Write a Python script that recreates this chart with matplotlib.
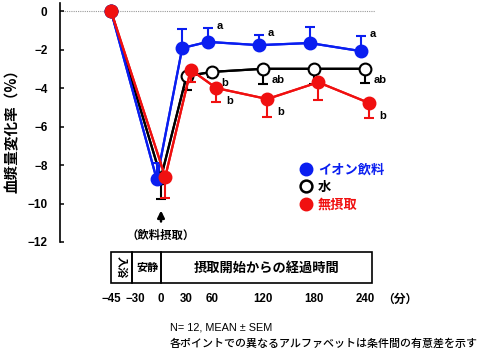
import numpy as np
import matplotlib
matplotlib.use("Agg")
import matplotlib.pyplot as plt
from matplotlib.lines import Line2D
from matplotlib.patches import Rectangle

# ---------------- data ----------------
times = np.array([-45, 0, 30, 60, 120, 180, 240])
tick_values = [-45, -30, 0, 30, 60, 120, 180, 240]
tick_labels = ["\u221245", "\u221230", "0", "30", "60", "120", "180", "240"]
yticks = [0, -2, -4, -6, -8, -10, -12]

ion_mean = np.array([0, -8.75, -1.92, -1.60, -1.77, -1.66, -2.08])
ion_sem = np.array([0, 0.85, 0.98, 0.73, 0.52, 0.83, 0.78])
water_mean = np.array([0, -8.65, -3.38, -3.16, -3.00, -3.00, -3.00])
water_sem = np.array([0, 1.10, 0.72, 0.25, 0.78, 0.80, 0.72])
none_mean = np.array([0, -8.62, -3.05, -4.00, -4.57, -3.70, -4.78])
none_sem = np.array([0, 1.08, 0.62, 0.72, 0.93, 0.93, 0.78])

ion_letters = ["", "", "", "a", "a", "", "a"]
water_letters = ["", "", "", "b", "ab", "", "ab"]
none_letters = ["", "", "", "b", "b", "", "b"]

series_names = ["イオン飲料", "水", "無摂取"]
period_labels = ["入浴", "安静", "摂取開始からの経過時間"]

BLUE = "#0a1ef0"
RED = "#f01010"
BLACK = "#000000"

JP = ["Noto Sans CJK JP", "DejaVu Sans"]
NUM = ["Liberation Sans", "DejaVu Sans"]

# ---------------- scale (pre-zero section compressed differently) ----------------
K = 28.8 / 15.0


def fwd(t):
    t = np.asarray(t, dtype=float)
    return np.where(t < -30, -30 + (t + 30) * K, t)


def inv(x):
    x = np.asarray(x, dtype=float)
    return np.where(x < -30, -30 + (x + 30) / K, x)


fig = plt.figure(figsize=(4.84, 3.56), dpi=100)
W, H = 484, 356
ax_l, ax_r, ax_t, ax_b = 60, 400, 3, 242
ax = fig.add_axes([ax_l / W, 1 - ax_b / H, (ax_r - ax_l) / W, (ax_b - ax_t) / H])
ax.set_xscale("function", functions=(fwd, inv))
pxmin = 0.85  # px per minute
ax.set_xlim(float(inv((ax_l - 161) / pxmin)), float(inv((ax_r - 161) / pxmin)))
ax.set_ylim(-12, 0.42)

for s in ["top", "right", "bottom"]:
    ax.spines[s].set_visible(False)
ax.spines["left"].set_linewidth(1.2)

ax.axhline(0, xmin=0.006, xmax=0.926, color="#999999", lw=0.8, ls=(0, (1, 1)), zorder=0)


def draw(mean, sem, color, face, offset, up, z):
    x = times + np.where(times >= 0, offset, 0)
    err = np.vstack([np.zeros_like(sem), sem]) if up else np.vstack([sem, np.zeros_like(sem)])
    ax.errorbar(x, mean, yerr=err, color=color, lw=1.6, capsize=3.5, capthick=1.5,
                elinewidth=1.5, zorder=z, marker=None)
    ax.plot(x, mean, color=color, lw=1.6, marker="o", ms=8.5, mfc=face, mec=color,
            mew=1.5, zorder=z + 0.5)
    return x


xb = draw(water_mean, water_sem, BLACK, "white", 0, False, 3)
xi = draw(ion_mean, ion_sem, BLUE, BLUE, -5, True, 4)
xr = draw(none_mean, none_sem, RED, RED, 5, False, 5)

lfont = dict(family=NUM, fontsize=8, fontweight="bold")
for x, m, s, l in zip(xi, ion_mean, ion_sem, ion_letters):
    if l:
        ax.annotate(l, (x, m + s), xytext=(6.5, 1.5), textcoords="offset points",
                    ha="left", va="center", **lfont)
for x, m, l in zip(xb, water_mean, water_letters):
    if l:
        ax.annotate(l, (x, m), xytext=(6.5, -8), textcoords="offset points",
                    ha="left", va="center", **lfont)
for x, m, l in zip(xr, none_mean, none_letters):
    if l:
        ax.annotate(l, (x, m), xytext=(7.5, -9.5), textcoords="offset points",
                    ha="left", va="center", **lfont)

# y axis
ax.set_yticks(yticks)
ax.set_yticklabels(["0" if v == 0 else "\u2212%d" % -v for v in yticks])
ax.tick_params(axis="y", direction="in", length=3, width=1.1, pad=9)
for t in ax.get_yticklabels():
    t.set_fontfamily(NUM)
    t.set_fontweight("bold")
    t.set_fontsize(8.5)

# x axis
ax.set_xticks(tick_values)
ax.set_xticklabels(tick_labels)
ax.tick_params(axis="x", length=0, pad=37)
for t in ax.get_xticklabels():
    t.set_fontfamily(NUM)
    t.set_fontweight("bold")
    t.set_fontsize(8.3)
ax.xaxis.set_minor_locator(matplotlib.ticker.NullLocator())

ax.set_ylabel("血漿量変化率（%）", fontfamily=JP, fontweight="bold", fontsize=10.5)
ax.yaxis.set_label_coords((20 - ax_l) / (ax_r - ax_l), (ax_b - 127) / (ax_b - ax_t))

# arrow and label
ax.annotate("", xy=(0, -10.22), xytext=(0, -11.08),
            arrowprops=dict(arrowstyle="-|>", color="black", lw=1.8, mutation_scale=10),
            annotation_clip=False)
ax.text(0, -11.64, "（飲料摂取）", ha="center", va="center", fontfamily=JP,
        fontsize=8.2, fontweight="bold", clip_on=False)

# period box
y_top, y_bot = -12.52, -14.13
edges = [-45, -32, 0, 248]
for a, b in zip(edges[:-1], edges[1:]):
    ax.add_patch(Rectangle((a, y_bot), b - a, y_top - y_bot, fill=False, lw=1.2,
                           ec="black", clip_on=False))
cx = [-38.5, -16, 124]
ax.text(cx[0], (y_top + y_bot) / 2, period_labels[0], rotation=270, ha="center", va="center",
        fontfamily=JP, fontsize=8, fontweight="bold", clip_on=False)
ax.text(cx[1], (y_top + y_bot) / 2, period_labels[1], ha="center", va="center",
        fontfamily=JP, fontsize=8, fontweight="bold", clip_on=False)
ax.text(cx[2], (y_top + y_bot) / 2, period_labels[2], ha="center", va="center",
        fontfamily=JP, fontsize=9.5, fontweight="bold", clip_on=False)

fig.text(382 / W, 1 - 299 / H, "（分）", ha="left", va="center", fontfamily=JP,
         fontsize=8.5, fontweight="bold")

# legend
handles = [
    Line2D([], [], ls="", marker="o", ms=8.5, mfc=BLUE, mec=BLUE, mew=1.5),
    Line2D([], [], ls="", marker="o", ms=8.5, mfc="white", mec=BLACK, mew=1.8),
    Line2D([], [], ls="", marker="o", ms=8.5, mfc=RED, mec=RED, mew=1.5),
]
leg = fig.legend(handles, series_names, loc="upper left",
                 bbox_to_anchor=(293 / W, 1 - 156 / H), frameon=False,
                 handlelength=0.9, handletextpad=0.5, labelspacing=0.25, borderpad=0,
                 prop=dict(family=JP, size=9.5, weight="bold"),
                 labelcolor=[BLUE, BLACK, RED])

fig.text(170 / W, 1 - 327 / H, "N= 12, MEAN ± SEM", ha="left", va="center",
         fontfamily=NUM, fontsize=7.8)
fig.text(170 / W, 1 - 343 / H, "各ポイントでの異なるアルファベットは条件間の有意差を示す",
         ha="left", va="center", fontfamily=JP, fontsize=7.9, fontweight="medium")

fig.savefig("out.png", dpi=100)
